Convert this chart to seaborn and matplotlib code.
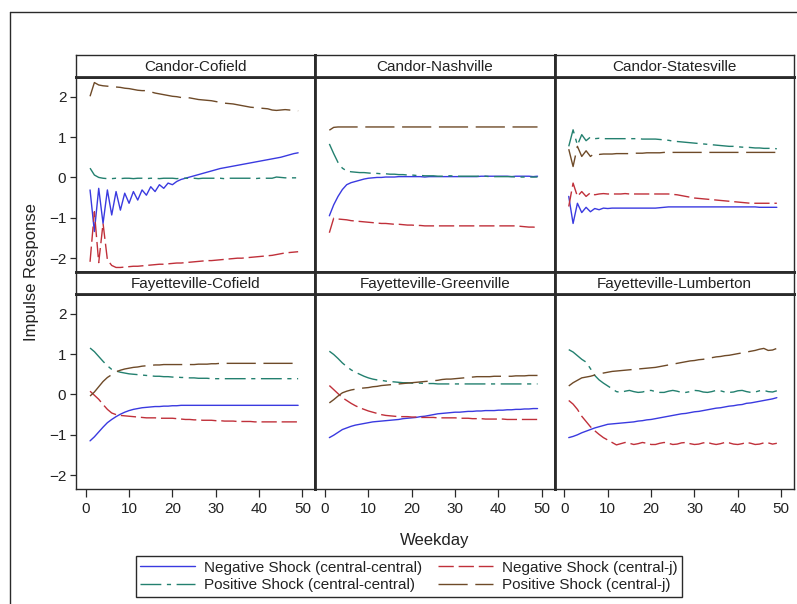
import matplotlib
matplotlib.use("Agg")
import matplotlib.pyplot as plt
from matplotlib.lines import Line2D
import pandas as pd
import seaborn as sns

# ---------------------------------------------------------------- data
weekday = list(range(1, 50))

pairs = ["Candor-Cofield", "Candor-Nashville", "Candor-Statesville",
         "Fayetteville-Cofield", "Fayetteville-Greenville", "Fayetteville-Lumberton"]

series_names = ["Negative Shock (central-central)", "Negative Shock (central-j)",
                "Positive Shock (central-central)", "Positive Shock (central-j)"]

x_ticks = [0, 10, 20, 30, 40, 50]
y_ticks = [-2, -1, 0, 1, 2]

# Candor-Cofield
cc_neg_cc = [-0.31, -1.34, -0.27, -1.14, -0.31, -0.93, -0.35, -0.81, -0.39, -0.64,
             -0.35, -0.56, -0.31, -0.44, -0.23, -0.35, -0.18, -0.27, -0.14, -0.18,
             -0.10, -0.05, -0.02, 0.01, 0.04, 0.07, 0.10, 0.13, 0.16, 0.19,
             0.22, 0.24, 0.26, 0.28, 0.30, 0.32, 0.34, 0.36, 0.38, 0.40,
             0.42, 0.44, 0.46, 0.48, 0.50, 0.53, 0.56, 0.59, 0.61]
cc_neg_cj = [-2.09, -0.85, -2.11, -1.14, -2.04, -2.18, -2.23, -2.23, -2.22, -2.21,
             -2.20, -2.20, -2.19, -2.18, -2.17, -2.16, -2.15, -2.15, -2.14, -2.13,
             -2.12, -2.12, -2.11, -2.10, -2.09, -2.08, -2.07, -2.06, -2.06, -2.05,
             -2.04, -2.03, -2.02, -2.01, -2.00, -2.00, -1.99, -1.98, -1.97, -1.96,
             -1.95, -1.94, -1.93, -1.91, -1.89, -1.87, -1.86, -1.85, -1.84]
cc_pos_cc = [0.23, 0.06, 0.00, -0.02, -0.03, -0.03, -0.02, -0.03, -0.02, -0.02,
             -0.03, -0.02, -0.02, -0.03, -0.02, -0.02, -0.03, -0.02, -0.02, -0.02,
             -0.03, -0.02, -0.02, -0.02, -0.02, -0.03, -0.02, -0.02, -0.02, -0.02,
             -0.02, -0.03, -0.02, -0.02, -0.02, -0.02, -0.02, -0.02, -0.03, -0.02,
             -0.02, -0.02, -0.02, 0.01, 0.00, -0.01, -0.01, -0.01, -0.01]
cc_pos_cj = [2.01, 2.35, 2.29, 2.27, 2.26, 2.25, 2.24, 2.23, 2.21, 2.20,
             2.18, 2.16, 2.15, 2.15, 2.12, 2.09, 2.07, 2.05, 2.03, 2.01,
             2.00, 1.98, 1.98, 1.97, 1.95, 1.93, 1.92, 1.91, 1.90, 1.88,
             1.86, 1.84, 1.83, 1.82, 1.80, 1.78, 1.76, 1.74, 1.73, 1.72,
             1.71, 1.70, 1.67, 1.66, 1.67, 1.68, 1.67, 1.66, 1.65]

# Candor-Nashville
cn_neg_cc = [-0.95, -0.68, -0.47, -0.30, -0.18, -0.13, -0.10, -0.07, -0.04, -0.02,
             -0.01, 0.00, 0.00, 0.01, 0.01, 0.01, 0.02, 0.02, 0.02, 0.02,
             0.02, 0.02, 0.01, 0.02, 0.02, 0.02, 0.02, 0.02, 0.02, 0.02,
             0.02, 0.02, 0.02, 0.02, 0.02, 0.03, 0.03, 0.03, 0.03, 0.03,
             0.03, 0.03, 0.02, 0.03, 0.03, 0.03, 0.03, 0.02, 0.03]
cn_neg_cj = [-1.37, -1.01, -1.03, -1.04, -1.05, -1.07, -1.08, -1.09, -1.10, -1.11,
             -1.12, -1.13, -1.14, -1.14, -1.15, -1.16, -1.16, -1.17, -1.18, -1.18,
             -1.19, -1.19, -1.20, -1.20, -1.20, -1.20, -1.20, -1.20, -1.20, -1.20,
             -1.20, -1.20, -1.20, -1.20, -1.20, -1.20, -1.20, -1.20, -1.20, -1.20,
             -1.20, -1.20, -1.20, -1.20, -1.21, -1.22, -1.23, -1.23, -1.24]
cn_pos_cc = [0.83, 0.59, 0.37, 0.23, 0.16, 0.14, 0.13, 0.12, 0.12, 0.11,
             0.10, 0.10, 0.09, 0.09, 0.08, 0.08, 0.07, 0.07, 0.06, 0.06,
             0.05, 0.05, 0.04, 0.04, 0.04, 0.03, 0.03, 0.04, 0.04, 0.03,
             0.03, 0.03, 0.03, 0.03, 0.03, 0.03, 0.03, 0.02, 0.02, 0.02,
             0.02, 0.02, 0.02, 0.01, 0.01, 0.01, 0.01, 0.01, 0.01]
cn_pos_cj = [1.17, 1.24, 1.25, 1.25, 1.25, 1.25, 1.25, 1.25, 1.25, 1.25,
             1.25, 1.25, 1.25, 1.25, 1.25, 1.25, 1.25, 1.25, 1.25, 1.25,
             1.25, 1.25, 1.25, 1.25, 1.25, 1.25, 1.25, 1.25, 1.25, 1.25,
             1.25, 1.25, 1.25, 1.25, 1.25, 1.25, 1.25, 1.25, 1.25, 1.25,
             1.25, 1.25, 1.25, 1.25, 1.25, 1.25, 1.25, 1.25, 1.25]

# Candor-Statesville
cs_neg_cc = [-0.47, -1.14, -0.64, -0.87, -0.74, -0.85, -0.77, -0.80, -0.76, -0.77,
             -0.76, -0.76, -0.76, -0.76, -0.76, -0.76, -0.76, -0.76, -0.76, -0.76,
             -0.76, -0.75, -0.74, -0.73, -0.73, -0.73, -0.73, -0.73, -0.73, -0.73,
             -0.73, -0.73, -0.73, -0.73, -0.73, -0.73, -0.73, -0.73, -0.73, -0.73,
             -0.73, -0.73, -0.73, -0.73, -0.74, -0.74, -0.74, -0.74, -0.74]
cs_neg_cj = [-0.72, -0.14, -0.47, -0.35, -0.47, -0.38, -0.43, -0.41, -0.40, -0.41,
             -0.41, -0.41, -0.41, -0.40, -0.41, -0.41, -0.41, -0.41, -0.41, -0.41,
             -0.41, -0.41, -0.41, -0.41, -0.42, -0.43, -0.45, -0.47, -0.49, -0.51,
             -0.52, -0.53, -0.54, -0.55, -0.56, -0.57, -0.58, -0.59, -0.60, -0.61,
             -0.62, -0.63, -0.64, -0.64, -0.64, -0.64, -0.64, -0.64, -0.64]
cs_pos_cc = [0.77, 1.18, 0.80, 1.06, 0.91, 1.00, 0.96, 0.97, 0.96, 0.96,
             0.96, 0.96, 0.96, 0.96, 0.96, 0.96, 0.96, 0.95, 0.95, 0.95,
             0.95, 0.94, 0.93, 0.92, 0.90, 0.89, 0.88, 0.87, 0.86, 0.85,
             0.84, 0.83, 0.82, 0.81, 0.80, 0.79, 0.78, 0.77, 0.77, 0.76,
             0.75, 0.75, 0.74, 0.73, 0.73, 0.72, 0.72, 0.72, 0.71]
cs_pos_cj = [0.70, 0.27, 0.77, 0.52, 0.66, 0.52, 0.60, 0.57, 0.58, 0.58,
             0.58, 0.59, 0.59, 0.59, 0.59, 0.60, 0.60, 0.60, 0.61, 0.61,
             0.61, 0.61, 0.62, 0.62, 0.62, 0.62, 0.62, 0.62, 0.62, 0.62,
             0.62, 0.62, 0.62, 0.62, 0.62, 0.62, 0.62, 0.62, 0.62, 0.62,
             0.62, 0.62, 0.62, 0.62, 0.62, 0.62, 0.62, 0.62, 0.62]

# Fayetteville-Cofield
fc_neg_cc = [-1.15, -1.05, -0.93, -0.81, -0.70, -0.62, -0.55, -0.49, -0.44, -0.40,
             -0.37, -0.35, -0.33, -0.32, -0.31, -0.30, -0.30, -0.29, -0.29, -0.28,
             -0.28, -0.27, -0.27, -0.27, -0.27, -0.27, -0.27, -0.27, -0.27, -0.27,
             -0.27, -0.27, -0.27, -0.27, -0.27, -0.27, -0.27, -0.27, -0.27, -0.27,
             -0.27, -0.27, -0.27, -0.27, -0.27, -0.27, -0.27, -0.27, -0.27]
fc_neg_cj = [0.08, -0.02, -0.12, -0.25, -0.37, -0.46, -0.50, -0.52, -0.53, -0.54,
             -0.55, -0.56, -0.57, -0.58, -0.58, -0.58, -0.59, -0.59, -0.59, -0.59,
             -0.60, -0.61, -0.62, -0.62, -0.63, -0.63, -0.64, -0.64, -0.64, -0.65,
             -0.65, -0.66, -0.66, -0.66, -0.67, -0.67, -0.67, -0.67, -0.68, -0.68,
             -0.68, -0.68, -0.68, -0.68, -0.68, -0.68, -0.68, -0.68, -0.68]
fc_pos_cc = [1.15, 1.06, 0.94, 0.82, 0.71, 0.62, 0.58, 0.55, 0.53, 0.51,
             0.50, 0.49, 0.48, 0.47, 0.46, 0.45, 0.45, 0.44, 0.44, 0.43,
             0.43, 0.42, 0.42, 0.41, 0.41, 0.40, 0.40, 0.40, 0.39, 0.39,
             0.39, 0.39, 0.39, 0.39, 0.39, 0.39, 0.39, 0.39, 0.39, 0.39,
             0.39, 0.39, 0.39, 0.39, 0.39, 0.39, 0.39, 0.39, 0.39]
fc_pos_cj = [-0.04, 0.06, 0.19, 0.32, 0.42, 0.49, 0.56, 0.60, 0.63, 0.65,
             0.67, 0.68, 0.70, 0.71, 0.72, 0.73, 0.73, 0.74, 0.74, 0.74,
             0.74, 0.74, 0.74, 0.74, 0.74, 0.75, 0.75, 0.75, 0.76, 0.76,
             0.77, 0.77, 0.77, 0.77, 0.77, 0.77, 0.77, 0.77, 0.77, 0.77,
             0.77, 0.77, 0.77, 0.77, 0.77, 0.77, 0.77, 0.77, 0.77]

# Fayetteville-Greenville
fg_neg_cc = [-1.07, -1.01, -0.94, -0.87, -0.83, -0.79, -0.76, -0.74, -0.72, -0.70,
             -0.68, -0.67, -0.66, -0.65, -0.64, -0.63, -0.62, -0.60, -0.59, -0.58,
             -0.57, -0.55, -0.54, -0.52, -0.50, -0.48, -0.47, -0.46, -0.45, -0.44,
             -0.44, -0.43, -0.42, -0.42, -0.41, -0.41, -0.40, -0.40, -0.40, -0.39,
             -0.39, -0.38, -0.38, -0.37, -0.37, -0.36, -0.36, -0.35, -0.35]
fg_neg_cj = [0.22, 0.12, 0.02, -0.08, -0.15, -0.22, -0.28, -0.33, -0.37, -0.41,
             -0.44, -0.47, -0.50, -0.52, -0.53, -0.54, -0.55, -0.55, -0.55, -0.56,
             -0.56, -0.57, -0.57, -0.57, -0.57, -0.58, -0.58, -0.58, -0.58, -0.58,
             -0.59, -0.59, -0.59, -0.60, -0.60, -0.60, -0.61, -0.61, -0.61, -0.61,
             -0.61, -0.62, -0.62, -0.62, -0.62, -0.62, -0.62, -0.62, -0.62]
fg_pos_cc = [1.07, 0.99, 0.89, 0.78, 0.69, 0.61, 0.55, 0.50, 0.45, 0.41,
             0.38, 0.36, 0.35, 0.33, 0.32, 0.31, 0.30, 0.29, 0.29, 0.28,
             0.28, 0.28, 0.27, 0.27, 0.27, 0.26, 0.26, 0.26, 0.26, 0.26,
             0.26, 0.26, 0.26, 0.26, 0.26, 0.26, 0.26, 0.26, 0.26, 0.26,
             0.26, 0.26, 0.26, 0.26, 0.26, 0.26, 0.26, 0.26, 0.26]
fg_pos_cj = [-0.21, -0.13, -0.04, 0.04, 0.08, 0.11, 0.13, 0.15, 0.16, 0.17,
             0.19, 0.20, 0.22, 0.23, 0.24, 0.25, 0.26, 0.27, 0.28, 0.29,
             0.30, 0.31, 0.32, 0.33, 0.34, 0.35, 0.37, 0.38, 0.38, 0.39,
             0.40, 0.41, 0.42, 0.43, 0.44, 0.44, 0.44, 0.44, 0.45, 0.45,
             0.45, 0.45, 0.45, 0.46, 0.46, 0.46, 0.47, 0.47, 0.47]

# Fayetteville-Lumberton
fl_neg_cc = [-1.07, -1.04, -1.00, -0.95, -0.91, -0.87, -0.83, -0.80, -0.77, -0.74,
             -0.73, -0.72, -0.71, -0.70, -0.69, -0.68, -0.66, -0.65, -0.63, -0.62,
             -0.60, -0.58, -0.56, -0.54, -0.52, -0.50, -0.48, -0.47, -0.45, -0.43,
             -0.42, -0.40, -0.38, -0.36, -0.34, -0.33, -0.31, -0.29, -0.28, -0.26,
             -0.25, -0.22, -0.21, -0.19, -0.17, -0.15, -0.13, -0.11, -0.08]
fl_neg_cj = [-0.15, -0.24, -0.37, -0.54, -0.67, -0.80, -0.90, -0.99, -1.07, -1.13,
             -1.19, -1.25, -1.22, -1.19, -1.21, -1.24, -1.22, -1.19, -1.21, -1.24,
             -1.24, -1.21, -1.19, -1.21, -1.24, -1.23, -1.20, -1.19, -1.22, -1.24,
             -1.23, -1.20, -1.19, -1.22, -1.24, -1.22, -1.19, -1.20, -1.23, -1.24,
             -1.22, -1.19, -1.21, -1.24, -1.23, -1.20, -1.20, -1.23, -1.21]
fl_pos_cc = [1.11, 1.05, 0.96, 0.87, 0.80, 0.64, 0.47, 0.36, 0.28, 0.21,
             0.14, 0.07, 0.05, 0.08, 0.10, 0.07, 0.05, 0.06, 0.09, 0.10,
             0.07, 0.05, 0.05, 0.08, 0.10, 0.08, 0.05, 0.05, 0.07, 0.10,
             0.09, 0.06, 0.05, 0.07, 0.10, 0.09, 0.06, 0.05, 0.06, 0.09,
             0.10, 0.07, 0.05, 0.06, 0.09, 0.10, 0.07, 0.06, 0.09]
fl_pos_cj = [0.21, 0.29, 0.35, 0.41, 0.43, 0.45, 0.48, 0.51, 0.53, 0.55,
             0.57, 0.58, 0.59, 0.60, 0.61, 0.62, 0.63, 0.64, 0.65, 0.66,
             0.67, 0.69, 0.71, 0.73, 0.75, 0.77, 0.79, 0.81, 0.83, 0.84,
             0.86, 0.87, 0.89, 0.91, 0.93, 0.94, 0.96, 0.97, 0.99, 1.01,
             1.03, 1.05, 1.07, 1.09, 1.12, 1.14, 1.09, 1.10, 1.14]

panel_series = {
    "Candor-Cofield": [cc_neg_cc, cc_neg_cj, cc_pos_cc, cc_pos_cj],
    "Candor-Nashville": [cn_neg_cc, cn_neg_cj, cn_pos_cc, cn_pos_cj],
    "Candor-Statesville": [cs_neg_cc, cs_neg_cj, cs_pos_cc, cs_pos_cj],
    "Fayetteville-Cofield": [fc_neg_cc, fc_neg_cj, fc_pos_cc, fc_pos_cj],
    "Fayetteville-Greenville": [fg_neg_cc, fg_neg_cj, fg_pos_cc, fg_pos_cj],
    "Fayetteville-Lumberton": [fl_neg_cc, fl_neg_cj, fl_pos_cc, fl_pos_cj],
}

rows_long = []
for pair in pairs:
    for name, values in zip(series_names, panel_series[pair]):
        for wd, v in zip(weekday, values):
            rows_long.append({"pair": pair, "series": name, "Weekday": wd, "response": v})
df = pd.DataFrame(rows_long)

# ---------------------------------------------------------------- styling
sns.set_theme(style="white")
plt.rcParams["font.family"] = ["Liberation Sans", "DejaVu Sans"]
plt.rcParams["text.color"] = "#222222"

palette = {
    series_names[0]: "#3a3ae0",
    series_names[1]: "#c0303a",
    series_names[2]: "#23806f",
    series_names[3]: "#6e4a28",
}
dashes = {
    series_names[0]: "",
    series_names[1]: (11, 3.5),
    series_names[2]: (15, 4, 3, 4),
    series_names[3]: (21, 5.5),
}

W, H = 797, 604
fig = plt.figure(figsize=(W / 100, H / 100), dpi=100)
fig.patch.set_facecolor("white")


def rect(x0, y0, x1, y1):
    return [x0 / W, 1 - y1 / H, (x1 - x0) / W, (y1 - y0) / H]


col_edges = [76, 315.3, 554.7, 794]
row_geo = [(55, 76.5, 271.5), (271.5, 293.5, 488.5)]  # header top, plot top, plot bottom
edge_col = "#2a2a2a"

legend_handles = None
for i, pair in enumerate(pairs):
    r, c = divmod(i, 3)
    x0, x1 = col_edges[c], col_edges[c + 1]
    htop, ptop, pbot = row_geo[r]

    ax = fig.add_axes(rect(x0, ptop, x1, pbot))
    sub = df[df["pair"] == pair]
    sns.lineplot(data=sub, x="Weekday", y="response", hue="series", style="series",
                 hue_order=series_names, style_order=series_names,
                 palette=palette, dashes=dashes, linewidth=1.0,
                 estimator=None, errorbar=None, legend=(i == 0), ax=ax)
    if i == 0:
        h, l = ax.get_legend_handles_labels()
        legend_handles = dict(zip(l, h))
        ax.get_legend().remove()

    ax.set_xlim(-2.24, 52.96)
    ax.set_ylim(-2.33, 2.5)
    ax.set_xticks(x_ticks)
    ax.set_yticks(y_ticks)
    ax.set_xlabel("")
    ax.set_ylabel("")
    ax.set_facecolor("white")
    ax.tick_params(axis="y", direction="out", length=4.5, width=0.9, color=edge_col,
                   labelsize=11, labelcolor="#222222", pad=2.5,
                   left=(c == 0), labelleft=(c == 0))
    ax.tick_params(axis="x", direction="out", length=5.5, width=0.9, color=edge_col,
                   labelsize=11, labelcolor="#222222", pad=4,
                   bottom=(r == 1), labelbottom=(r == 1))
    for side, sp in ax.spines.items():
        sp.set_color(edge_col)
        sp.set_linewidth(1.0)
    if c < 2:
        ax.spines["right"].set_linewidth(2.0)
    if c > 0:
        ax.spines["left"].set_linewidth(2.0)
    ax.spines["top"].set_linewidth(2.0)
    if r == 0:
        ax.spines["bottom"].set_linewidth(2.0)

    # panel heading strip
    hx = fig.add_axes(rect(x0, htop, x1, ptop))
    hx.set_xticks([])
    hx.set_yticks([])
    hx.set_facecolor("white")
    for side, sp in hx.spines.items():
        sp.set_color(edge_col)
        sp.set_linewidth(1.0)
    hx.spines["bottom"].set_linewidth(2.0)
    if r == 1:
        hx.spines["top"].set_linewidth(2.0)
    if c < 2:
        hx.spines["right"].set_linewidth(2.0)
    if c > 0:
        hx.spines["left"].set_linewidth(2.0)
    hx.text(0.5, 0.45, pair, transform=hx.transAxes, ha="center", va="center",
            fontsize=11, color="#222222")

# shared axis titles
fig.text(32 / W, 1 - 272 / H, "Impulse Response", rotation=90, ha="center",
         va="center", fontsize=12, color="#222222")
fig.text(435 / W, 1 - 540 / H, "Weekday", ha="center", va="center",
         fontsize=12, color="#222222")

# legend: rows are Negative / Positive, columns are central-central / central-j
order = [series_names[0], series_names[2], series_names[1], series_names[3]]
leg = fig.legend([legend_handles[n] for n in order], order, ncol=2,
                 loc="center", bbox_to_anchor=(409 / W, 1 - 576.5 / H),
                 fontsize=11, frameon=True, fancybox=False, framealpha=1,
                 edgecolor=edge_col, handlelength=3.6, handletextpad=0.6,
                 columnspacing=1.0, labelspacing=0.25, borderpad=0.3,
                 borderaxespad=0)
leg.get_frame().set_linewidth(1.0)
for t in leg.get_texts():
    t.set_color("#222222")

# outer frame around the graph area
fig.add_artist(Line2D([10 / W, 10 / W], [0, 1 - 12 / H], transform=fig.transFigure,
                      color=edge_col, linewidth=1.0))
fig.add_artist(Line2D([10 / W, 1], [1 - 12 / H, 1 - 12 / H], transform=fig.transFigure,
                      color=edge_col, linewidth=1.0))

fig.savefig("out.png", dpi=100, facecolor="white")
